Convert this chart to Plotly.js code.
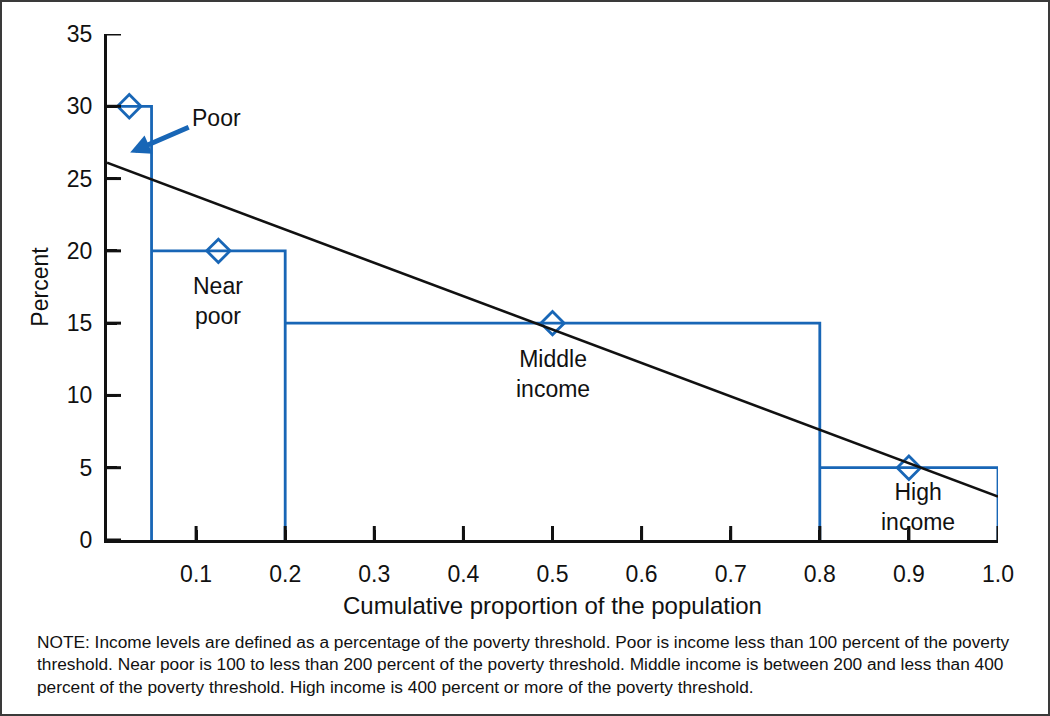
<!DOCTYPE html>
<html>
<head>
<meta charset="utf-8">
<script src="https://cdn.plot.ly/plotly-3.0.1.min.js"></script>
<style>
  html, body { margin: 0; padding: 0; background: #fff; }
  #wrap { position: relative; width: 1050px; height: 716px; }
  #chart { width: 1050px; height: 716px; }
  #frame { position: absolute; left: 0; top: 0; width: 1050px; height: 716px; box-sizing: border-box; border: 2px solid #3a3a3a; pointer-events: none; }
</style>
</head>
<body>
<div id="wrap"><div id="chart"></div><div id="frame"></div></div>
<script>
// Income groups: boundaries on cumulative population share and percent value
var groups = ["Poor", "Near<br>poor", "Middle<br>income", "High<br>income"];
var boundaries = [0, 0.05, 0.2, 0.8, 1.0];
var percents = [30, 20, 15, 5];
var markerX = [0.025, 0.125, 0.5, 0.9];
// Group label positions (data units)
var labelX = [0.123, 0.125, 0.5, 0.91];
var labelY = [29.2, 16.5, 11.5, 2.3];
// Fitted line end points
var trendX = [0, 1.0];
var trendY = [26.1, 3.0];
// Tick labels
var xTickVals = [0.1, 0.2, 0.3, 0.4, 0.5, 0.6, 0.7, 0.8, 0.9, 1.0];
var xTickText = ["0.1", "0.2", "0.3", "0.4", "0.5", "0.6", "0.7", "0.8", "0.9", "1.0"];
var yTickVals = [0, 5, 10, 15, 20, 25, 30, 35];

var BLUE = "#1866b6";
var INK = "#111111";
var FONT = "Liberation Sans, Arial, Helvetica, sans-serif";

// Build step outline from the arrays
var stepX = [], stepY = [];
for (var i = 0; i < percents.length; i++) {
  stepX.push(boundaries[i], boundaries[i + 1], boundaries[i + 1], null);
  stepY.push(percents[i], percents[i], 0, null);
}

var traces = [
  { x: stepX, y: stepY, mode: "lines", type: "scatter", line: { color: BLUE, width: 2.8 }, hoverinfo: "skip", showlegend: false, connectgaps: false },
  { x: markerX, y: percents, mode: "markers", type: "scatter", marker: { symbol: "diamond-open", size: 18, color: BLUE, line: { color: BLUE, width: 2.8 } }, showlegend: false },
  { x: trendX, y: trendY, mode: "lines", type: "scatter", line: { color: INK, width: 2.6 }, showlegend: false },
  // inside tick marks (half of each marker is clipped by the plot area)
  { x: yTickVals.map(function () { return 0; }), y: yTickVals, mode: "markers", type: "scatter", cliponaxis: true,
    marker: { symbol: "line-ew", size: 20, color: INK, line: { color: INK, width: 3 } }, showlegend: false, hoverinfo: "skip" },
  { x: xTickVals, y: xTickVals.map(function () { return 0; }), mode: "markers", type: "scatter", cliponaxis: true,
    marker: { symbol: "line-ns", size: 20, color: INK, line: { color: INK, width: 3 } }, showlegend: false, hoverinfo: "skip" }
];

var labelFont = { family: FONT, size: 23, color: INK };

var annotations = [
  { x: 0.026, y: 26.8, xref: "x", yref: "y", text: "", showarrow: true, ax: 60, ay: -26, axref: "pixel", ayref: "pixel", arrowcolor: BLUE, arrowwidth: 5, arrowhead: 2, arrowsize: 0.8 },
  { x: -0.081, y: -0.178, xref: "paper", yref: "paper", xanchor: "left", yanchor: "top", align: "left", showarrow: false,
    text: "NOTE: Income levels are defined as a percentage of the poverty threshold. Poor is income less than 100 percent of the poverty<br>threshold. Near poor is 100 to less than 200 percent of the poverty threshold. Middle income is between 200 and less than 400<br>percent of the poverty threshold. High income is 400 percent or more of the poverty threshold.",
    font: { family: FONT, size: 17.3, color: INK } }
];
for (var j = 0; j < groups.length; j++) {
  annotations.push({ x: labelX[j], y: labelY[j], xref: "x", yref: "y", text: groups[j], showarrow: false, font: labelFont });
}

var layout = {
  width: 1050, height: 716,
  margin: { l: 107, r: 52, t: 34, b: 176 },
  paper_bgcolor: "#fff", plot_bgcolor: "#fff",
  font: { family: FONT, size: 23, color: INK },
  xaxis: {
    range: [0, 1.0], showgrid: false, zeroline: false,
    showline: true, linecolor: INK, linewidth: 3, layer: "above traces",
    ticks: "inside", ticklen: 10, tickwidth: 3, tickcolor: INK,
    tickvals: xTickVals, ticktext: xTickText, ticklabelstandoff: 11,
    tickfont: { family: FONT, size: 23, color: INK },
    title: { text: "Cumulative proportion of the population", font: { family: FONT, size: 24, color: INK }, standoff: 12 }
  },
  yaxis: {
    range: [0, 35], showgrid: false, zeroline: false,
    showline: true, linecolor: INK, linewidth: 3, layer: "above traces",
    ticks: "inside", ticklen: 10, tickwidth: 3, tickcolor: INK,
    tickvals: yTickVals, ticklabelstandoff: 7,
    tickfont: { family: FONT, size: 23, color: INK },
    title: { text: "Percent", font: { family: FONT, size: 23, color: INK }, standoff: 12 }
  },
  annotations: annotations
};

Plotly.newPlot("chart", traces, layout, { displayModeBar: false });
</script>
</body>
</html>
